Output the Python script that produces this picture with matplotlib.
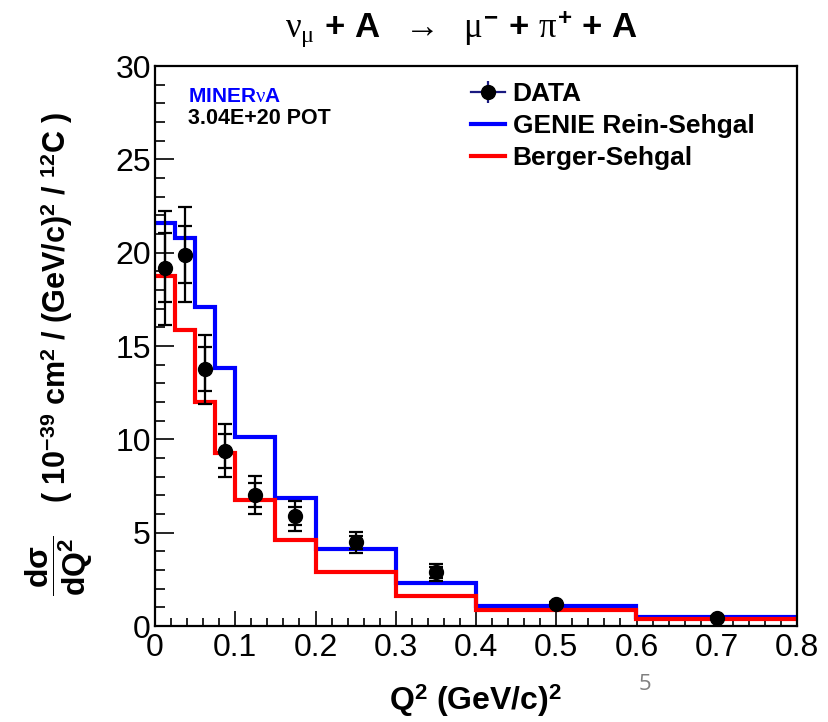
import numpy as np
import matplotlib
matplotlib.use("Agg")
import matplotlib.pyplot as plt
from matplotlib.lines import Line2D
from matplotlib.ticker import MultipleLocator

plt.rcParams['font.family'] = ['Liberation Sans', 'DejaVu Sans']
plt.rcParams['mathtext.fontset'] = 'custom'
plt.rcParams['mathtext.rm'] = 'Liberation Sans:bold'
plt.rcParams['mathtext.bf'] = 'Liberation Sans:bold'
plt.rcParams['mathtext.it'] = 'Liberation Serif'

# Q2 bin edges, (GeV/c)^2
edges = [0.0, 0.025, 0.05, 0.075, 0.1, 0.15, 0.2, 0.3, 0.4, 0.6, 0.8]

# model predictions per bin
genie_rs = [21.6, 20.8, 17.1, 13.8, 10.15, 6.85, 4.1, 2.3, 1.08, 0.48]
berger_s = [18.75, 15.85, 12.0, 9.27, 6.75, 4.6, 2.9, 1.6, 0.86, 0.35]

# data points
q2_data = [0.0125, 0.0375, 0.0625, 0.0875, 0.125, 0.175, 0.25, 0.35, 0.5, 0.7]
xs_data = [19.2, 19.9, 13.75, 9.4, 7.0, 5.9, 4.48, 2.87, 1.18, 0.45]
err_stat = [1.85, 1.52, 1.18, 0.91, 0.64, 0.47, 0.36, 0.28, 0.08, 0.05]
err_tot = [3.05, 2.55, 1.84, 1.4, 1.02, 0.79, 0.57, 0.45, 0.12, 0.08]

W, H = 829, 722
fig = plt.figure(figsize=(W / 100, H / 100), dpi=100)
ax = fig.add_axes([155 / W, 1 - 626 / H, 642 / W, 560 / H])

ax.stairs(genie_rs, edges, baseline=None, color='#0000ff', lw=3, zorder=2)
ax.stairs(berger_s, edges, baseline=None, color='#ff0000', lw=3, zorder=2)

# total and statistical error bars
ax.errorbar(q2_data, xs_data, yerr=err_tot, fmt='none', ecolor='black',
            elinewidth=1.6, capsize=5, capthick=1.6, zorder=3)
ax.errorbar(q2_data, xs_data, yerr=err_stat, fmt='o', color='black', ms=10,
            ecolor='black', elinewidth=1.6, capsize=5, capthick=1.6, zorder=4)

ax.set_xlim(0, 0.8)
ax.set_ylim(0, 30)
ax.xaxis.set_major_locator(MultipleLocator(0.1))
ax.xaxis.set_minor_locator(MultipleLocator(0.02))
ax.yaxis.set_major_locator(MultipleLocator(5))
ax.yaxis.set_minor_locator(MultipleLocator(1))
ax.xaxis.set_major_formatter(plt.FuncFormatter(lambda v, p: '0' if v == 0 else f'{v:.1f}'))
ax.tick_params(axis='both', which='both', direction='in', top=False, right=False,
               labelsize=23, width=1.2, colors='black')
ax.tick_params(axis='y', which='major', length=14, pad=3)
ax.tick_params(axis='y', which='minor', length=7)
ax.tick_params(axis='x', which='major', length=11, pad=5)
ax.tick_params(axis='x', which='minor', length=5.5)
for sp in ax.spines.values():
    sp.set_linewidth(1.6)

ax.set_xlabel(r'Q$^{2}$ (GeV/c)$^{2}$', fontsize=23, fontweight='bold')
ax.xaxis.set_label_coords(0.5, -0.1)

# y axis title: fraction part and units part
fig.text(59 / W, 1 - 566 / H, r'$\mathbf{\dfrac{d\sigma}{dQ^{2}}}$', rotation=90,
         ha='center', va='center', fontsize=23)
fig.text(57 / W, 1 - 307 / H, r'( 10$^{-39}$ cm$^{2}$ / (GeV/c)$^{2}$ / $^{12}$C )',
         rotation=90, ha='center', va='center', fontsize=22, fontweight='bold')

fig.text(0.557, 0.958, r'$\nu_{\mu}$ + A  $\rightarrow$  $\mu^{-}$ + $\pi^{+}$ + A',
         ha='center', va='center', fontsize=25, fontweight='bold')

ax.text(0.052, 0.945, r'MINER$\nu$A', transform=ax.transAxes, color='#0000ff',
        fontsize=15, fontweight='bold', va='center')
ax.text(0.052, 0.907, '3.04E+20 POT', transform=ax.transAxes, color='black',
        fontsize=15.5, fontweight='bold', va='center')

data_handle = (Line2D([], [], color='#1a1a80', lw=1.6),
               Line2D([], [], color='#1a1a80', marker='|', ms=16, mew=1.6, ls='none'),
               Line2D([], [], color='black', marker='o', ms=10, ls='none'))
handles = [data_handle,
           Line2D([], [], color='#0000ff', lw=3),
           Line2D([], [], color='#ff0000', lw=3)]
labels = ['DATA', 'GENIE Rein-Sehgal', 'Berger-Sehgal']
ax.legend(handles, labels, loc='upper left', bbox_to_anchor=(0.475, 0.99),
          frameon=False, prop={'size': 19, 'weight': 'bold'},
          handlelength=1.3, handletextpad=0.3, labelspacing=0.3, borderaxespad=0)

fig.text(645 / W, 1 - 684 / H, '5', color='#808080', fontsize=16,
         ha='center', va='center', family='Open Sans')

fig.savefig('out.png', dpi=100)
